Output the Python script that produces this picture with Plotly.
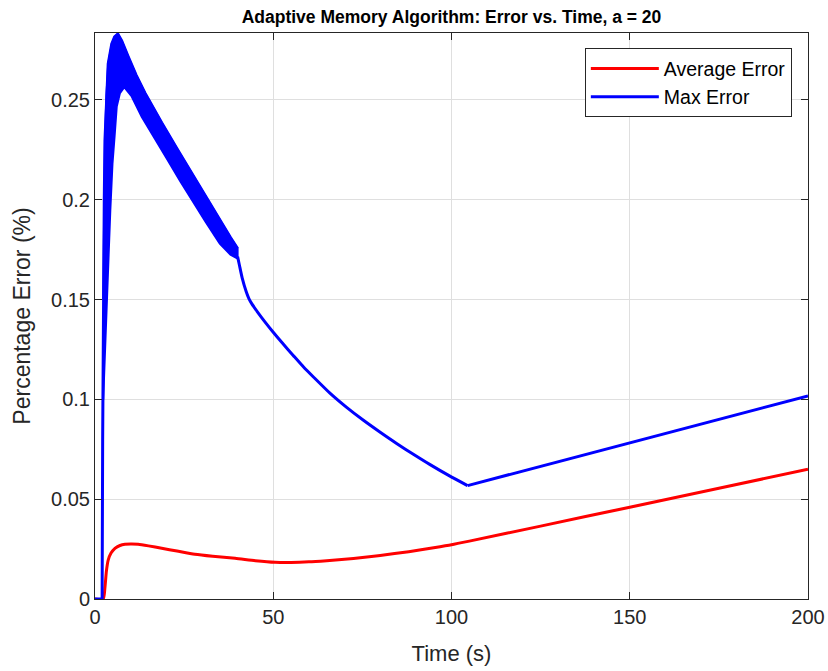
import plotly.graph_objects as go

# ---- data ----
# Average error
avg_t = [0, 2.3, 2.8, 3.2, 3.7, 4.5, 5.6, 7.0, 8.4, 10, 12.1, 15, 18.7, 23, 28, 33, 39.3, 45,
         50.5, 55, 60, 65, 70, 75, 80, 88, 95, 100, 105, 125, 150, 175, 200]
avg_v = [0, 0, 0.006, 0.014, 0.0195, 0.023, 0.0254, 0.0268, 0.0274, 0.0275, 0.0274, 0.0266,
         0.0254, 0.0240, 0.0224, 0.0214, 0.0204, 0.0192, 0.0184, 0.0183, 0.0186, 0.0192,
         0.0199, 0.0208, 0.0218, 0.0237, 0.0257, 0.0272, 0.0290, 0.0365, 0.0460, 0.0555, 0.0650]

# Max error: upper envelope of oscillating band (incl. initial flat and rise)
max_up_t = [0, 2.0, 2.15, 2.3, 2.6, 2.8, 3.2, 3.7, 4.7, 5.5, 6.4, 7.5, 9.3, 11.5, 14.0, 16.4,
            18.7, 23, 28, 31.3, 35, 38, 40]
max_up_v = [0, 0, 0.08, 0.15, 0.20, 0.23, 0.252, 0.268, 0.278, 0.2815, 0.283, 0.2795, 0.2717,
            0.2625, 0.2535, 0.2455, 0.2385, 0.2255, 0.2105, 0.201, 0.1895, 0.181, 0.1755]
# Max error: lower envelope of oscillating band
max_lo_t = [2.3, 3.0, 3.7, 4.3, 4.9, 5.5, 6.1, 7.0, 8.2, 10.3, 13.1, 16, 20, 24, 27.1, 31, 35,
            38, 40]
max_lo_v = [0.10, 0.14, 0.168, 0.195, 0.218, 0.232, 0.2467, 0.2534, 0.2564, 0.2517, 0.2416,
            0.233, 0.221, 0.209, 0.200, 0.189, 0.178, 0.1725, 0.1705]
# Max error after the band: decaying part, then the linear rise
max_dec_t = [40.0, 40.5, 41.3, 42.4, 43.2, 44.0, 45.5, 47.5, 50.0, 52.5, 55.6, 58.5, 61.5, 65.9,
             70.5, 75.3, 80, 84.6, 89.3, 94, 99.2, 104.5]
max_dec_v = [0.1715, 0.1673, 0.1607, 0.1540, 0.1503, 0.1478, 0.1440, 0.1392, 0.1336, 0.1283,
             0.1220, 0.1162, 0.1108, 0.1031, 0.0961, 0.0895, 0.0835, 0.0779, 0.0725, 0.0673,
             0.0619, 0.0568]
max_rise_t = [104.5, 122, 150, 175, 200]
max_rise_v = [0.0568, 0.0650, 0.0782, 0.0900, 0.1017]

x_ticks = [0, 50, 100, 150, 200]
x_ticktext = ["0", "50", "100", "150", "200"]
y_ticks = [0, 0.05, 0.1, 0.15, 0.2, 0.25]
y_ticktext = ["0", "0.05", "0.1", "0.15", "0.2", "0.25"]

RED = "#ff0000"
BLUE = "#0000ff"
AX = "#262626"
FONT = "Liberation Sans, Arial, Helvetica, sans-serif"

fig = go.Figure()
fig.add_trace(go.Scatter(x=avg_t, y=avg_v, mode="lines", name="Average Error",
                         line=dict(color=RED, width=3, shape="spline", smoothing=0.6)))

# oscillation band polygon of the max error
band_t = max_up_t[3:] + max_lo_t[::-1]
band_v = max_up_v[3:] + max_lo_v[::-1]
fig.add_trace(go.Scatter(x=band_t, y=band_v, mode="lines", fill="toself", fillcolor=BLUE,
                         line=dict(color=BLUE, width=2), showlegend=False, hoverinfo="skip"))
fig.add_trace(go.Scatter(x=max_up_t, y=max_up_v, mode="lines", showlegend=False,
                         line=dict(color=BLUE, width=3), hoverinfo="skip"))
fig.add_trace(go.Scatter(x=max_rise_t, y=max_rise_v, mode="lines", showlegend=False,
                         line=dict(color=BLUE, width=3)))
fig.add_trace(go.Scatter(x=max_dec_t, y=max_dec_v, mode="lines", name="Max Error",
                         line=dict(color=BLUE, width=3, shape="spline", smoothing=0.6)))

axis_common = dict(
    showline=True, linecolor=AX, linewidth=1, mirror="ticks",
    ticks="inside", ticklen=7, tickcolor=AX, tickwidth=1,
    showgrid=True, gridcolor="#dfdfdf", gridwidth=1, zeroline=False,
    tickfont=dict(family=FONT, size=20, color=AX), automargin=False,
)

fig.update_layout(
    width=828, height=671,
    margin=dict(l=95, r=20, t=33, b=72, autoexpand=False),
    paper_bgcolor="white", plot_bgcolor="white",
    title=dict(text="<b>Adaptive Memory Algorithm: Error vs. Time, a = 20</b>",
               font=dict(family=FONT, size=17.5, color="black"),
               x=0.5453, xanchor="center", y=0.975, yanchor="middle"),
    xaxis=dict(range=[0, 200], tickvals=x_ticks, ticktext=x_ticktext,
               title=dict(text="Time (s)", font=dict(family=FONT, size=22, color=AX), standoff=18),
               **axis_common),
    yaxis=dict(range=[0, 0.2835], tickvals=y_ticks, ticktext=y_ticktext,
               title=dict(text="Percentage Error (%)", font=dict(family=FONT, size=23, color=AX), standoff=14),
               **axis_common),
    legend=dict(x=0.687, y=0.973, xanchor="left", yanchor="top",
                bgcolor="white", bordercolor=AX, borderwidth=1,
                font=dict(family=FONT, size=19.5, color="black"),
                itemwidth=68, tracegroupgap=0),
    showlegend=True,
)

fig.write_html("out.html")
